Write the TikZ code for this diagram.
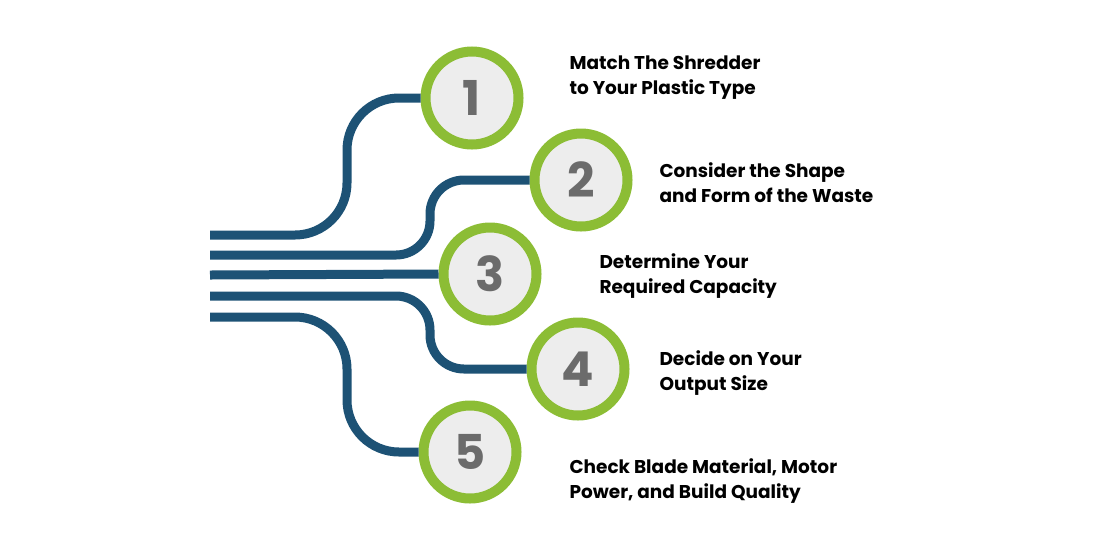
\documentclass[tikz,border=0pt]{standalone}
\usepackage{fontspec}
\setmainfont{Poppins}
\usetikzlibrary{positioning}
\definecolor{ringgreen}{HTML}{8CBD35}
\definecolor{pipeblue}{HTML}{1D5275}
\definecolor{numgray}{HTML}{6B6B6B}
\tikzset{
  stepring/.style = {draw = ringgreen, line width = 10pt, circle, fill = black!7,
    minimum size = 93pt, inner sep = 0pt, text = numgray,
    font = \fontsize{48}{48}\selectfont\bfseries},
  pipe/.style = {draw = pipeblue, line width = 9pt},
  info/.style = {anchor = west, align = left, text = black,
    font = \fontsize{18.5}{25}\selectfont\bfseries}
}
\begin{document}
\begin{tikzpicture}[x=1pt, y=-1pt]
\useasboundingbox (0,0) rectangle (1100,550);
				\node [stepring] (c1) at(472,98) {1};
				\node [stepring] (c2) at(581,180) {2};
				\node [stepring] (c3) at(490,274) {3};
				\node [stepring] (c4) at(578,369) {4};
				\node [stepring] (c5) at(470,452) {5};
				%
				\draw [pipe, rounded corners = 52pt] (210,235) -- (347,235) -- (347,98) -- (c1.west);
				\draw [pipe, rounded corners = 34pt] (210,255) -- (430,255) -- (430,180) -- (c2.west);
				\draw [pipe] (210,275) -- (c3.west);
				\draw [pipe, rounded corners = 34pt] (210,296) -- (430,296) -- (430,369) -- (c4.west);
				\draw [pipe, rounded corners = 52pt] (210,317) -- (347,317) -- (347,452) -- (c5.west);
				%
				\node [info] (t1) at(566,78) {Match The Shredder\\to Your Plastic Type};
				\node [info] (t2) at(656,183) {Consider the Shape\\and Form of the Waste};
				\node [info] (t3) at(596,276) {Determine Your\\Required Capacity};
				\node [info] (t4) at(656,373) {Decide on Your\\Output Size};
				\node [info] (t5) at(566,481) {Check Blade Material, Motor\\Power, and Build Quality};
\end{tikzpicture}
\end{document}
